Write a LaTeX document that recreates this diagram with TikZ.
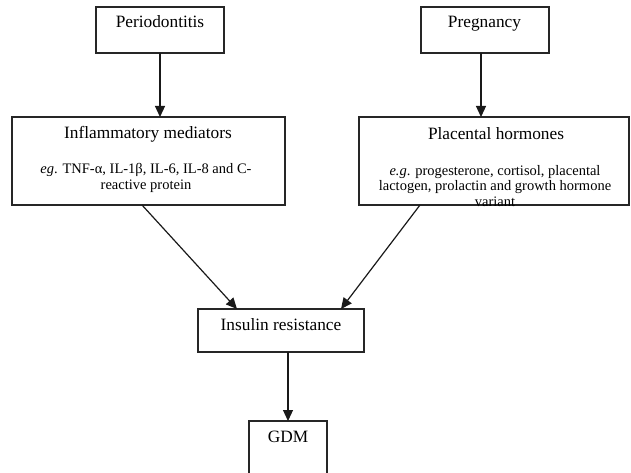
\documentclass[tikz,border=0pt]{standalone}
\usepackage{fontspec}
\setmainfont{Liberation Serif}
\usetikzlibrary{arrows.meta}
\tikzset{
  box/.style={draw=black!85, line width=1.3pt, rectangle, inner sep=0pt, outer sep=0pt},
  title/.style={inner sep=0pt, anchor=base, font=\fontsize{17.3}{20}\selectfont},
  sub/.style={inner sep=0pt, anchor=north, align=center, font=\fontsize{14.5}{15.2}\selectfont},
  arr/.style={draw=black!90, line width=1.2pt, -{Triangle[length=11pt,width=10pt]}}
}
\begin{document}
\begin{tikzpicture}[x=1pt,y=-1pt]
\useasboundingbox (0,0) rectangle (631,473);
% boxes
\node[box, minimum width=128pt, minimum height=46pt] (per) at (160,30) {};
\node[box, minimum width=128pt, minimum height=46pt] (preg) at (485,30) {};
\node[box, minimum width=273pt, minimum height=88pt] (inf) at (148.5,161) {};
\node[box, minimum width=270pt, minimum height=88pt] (plac) at (494,161) {};
\node[box, minimum width=166pt, minimum height=43pt] (ins) at (281,330.5) {};
\node[box, minimum width=78pt, minimum height=64pt] (gdm) at (288,453) {};
% texts
\node[title] (tper) at (160,28) {Periodontitis};
\node[title] (tpreg) at (484.5,28) {Pregnancy};
\node[title] (tinf) at (148,139) {Inflammatory mediators};
\node[sub] (sinf) at (146,163.5) {\textit{eg}. TNF-α, IL-1β, IL-6, IL-8 and C-\\reactive protein};
\node[title] (tplac) at (496,140) {Placental hormones};
\node[sub] (splac) at (495,165.5) {\textit{e.g}. progesterone, cortisol, placental\\lactogen, prolactin and growth hormone\\variant};
\node[title] (tins) at (281,330) {Insulin resistance};
\node[title] (tgdm) at (288,442) {GDM};
% arrows
\draw[arr] (per.south) -- (per.south |- inf.north);
\draw[arr] ([xshift=-4pt]preg.south) -- ([xshift=-4pt]preg.south |- plac.north);
\draw[arr] ([xshift=130pt]inf.south west) -- ([xshift=39pt]ins.north west);
\draw[arr] ([xshift=61pt]plac.south west) -- ([xshift=-23pt]ins.north east);
\draw[arr] (gdm.north |- ins.south) -- (gdm.north);
\end{tikzpicture}
\end{document}
